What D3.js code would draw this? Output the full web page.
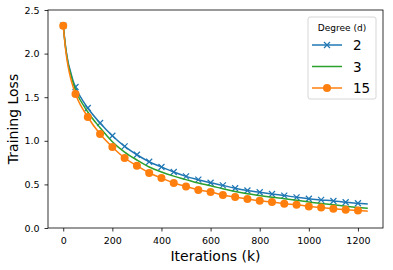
<!doctype html>
<html lang="en">
<head>
<meta charset="utf-8">
<title>Training loss</title>
<style>
  body { margin: 0; background: #fff; }
  text { font-family: "DejaVu Sans", sans-serif; fill: #000; }
</style>
</head>
<body>
<div id="chart"></div>
<script src="https://cdn.jsdelivr.net/npm/d3@7/dist/d3.min.js"></script>
<script>
  // iterations (k) and loss per degree
  const iterations = [0, 10, 20, 30, 40, 50, 100, 150, 200, 250, 300, 350, 400, 450, 500, 550, 600,
    650, 700, 750, 800, 850, 900, 950, 1000, 1050, 1100, 1150, 1200, 1240];
  const lossD2 = [2.32, 2.07, 1.90, 1.79, 1.69, 1.617, 1.376, 1.204, 1.058, 0.936, 0.84, 0.76, 0.70, 0.642,
    0.592, 0.554, 0.519, 0.489, 0.456, 0.43, 0.41, 0.39, 0.372, 0.352, 0.335, 0.322, 0.31, 0.295, 0.284, 0.275];
  const lossD3 = [2.32, 2.06, 1.88, 1.77, 1.67, 1.585, 1.33, 1.15, 0.99, 0.87, 0.78, 0.70, 0.642, 0.595,
    0.555, 0.515, 0.485, 0.45, 0.418, 0.393, 0.372, 0.352, 0.336, 0.318, 0.298, 0.282, 0.266, 0.25, 0.236, 0.227];
  const lossD15 = [2.32, 2.04, 1.85, 1.72, 1.62, 1.537, 1.273, 1.078, 0.929, 0.803, 0.714, 0.631, 0.573, 0.516,
    0.477, 0.436, 0.413, 0.378, 0.355, 0.333, 0.313, 0.298, 0.279, 0.267, 0.247, 0.234, 0.221, 0.21, 0.2, 0.193];
  const degrees = ["2", "3", "15"];
  const xTicks = [0, 200, 400, 600, 800, 1000, 1200];
  const yTicks = [0.0, 0.5, 1.0, 1.5, 2.0, 2.5];

  const width = 393, height = 270;
  const margin = { top: 10, right: 10, bottom: 42, left: 48 };

  const series = [
    { name: degrees[0], values: lossD2, color: "#1f77b4", marker: "x" },
    { name: degrees[1], values: lossD3, color: "#2ca02c", marker: null },
    { name: degrees[2], values: lossD15, color: "#ff7f0e", marker: "o" }
  ];

  const svg = d3.select("#chart").append("svg").attr("width", width).attr("height", height);

  const x = d3.scaleLinear().domain([-62, 1302]).range([margin.left, width - margin.right]);
  const y = d3.scaleLinear().domain([0, 2.5]).range([height - margin.bottom, margin.top]);

  const line = d3.line()
    .x((d, i) => x(iterations[i]))
    .y(d => y(d))
    .curve(d3.curveMonotoneX);

  function drawMarker(g, type, color, cx, cy) {
    if (type === "x") {
      const s = 3;
      g.append("path")
        .attr("d", `M${cx - s},${cy - s}L${cx + s},${cy + s}M${cx - s},${cy + s}L${cx + s},${cy - s}`)
        .attr("stroke", color).attr("stroke-width", 1.2).attr("fill", "none");
    } else if (type === "o") {
      g.append("circle").attr("cx", cx).attr("cy", cy).attr("r", 4).attr("fill", color);
    }
  }

  const plot = svg.append("g");
  series.forEach(s => {
    plot.append("path")
      .datum(s.values)
      .attr("d", line)
      .attr("fill", "none")
      .attr("stroke", s.color)
      .attr("stroke-width", 1.5);
    if (s.marker) {
      s.values.forEach((v, i) => {
        if (iterations[i] % 50 === 0 && iterations[i] <= 1200) {
          drawMarker(plot, s.marker, s.color, x(iterations[i]), y(v));
        }
      });
    }
  });

  // axes
  const xAxis = svg.append("g")
    .attr("transform", `translate(0,${height - margin.bottom})`)
    .call(d3.axisBottom(x).tickValues(xTicks).tickSize(3.5).tickPadding(5.5).tickFormat(d3.format("d")));
  const yAxis = svg.append("g")
    .attr("transform", `translate(${margin.left},0)`)
    .call(d3.axisLeft(y).tickValues(yTicks).tickSize(3.5).tickPadding(5).tickFormat(d3.format(".1f")));
  [xAxis, yAxis].forEach(a => {
    a.select(".domain").remove();
    a.selectAll("text").style("font-family", "DejaVu Sans").style("font-size", "9.5px").attr("fill", "#000");
    a.selectAll("line").attr("stroke", "#000").attr("stroke-width", 0.8);
  });

  // frame
  svg.append("rect")
    .attr("x", margin.left).attr("y", margin.top)
    .attr("width", width - margin.left - margin.right)
    .attr("height", height - margin.top - margin.bottom)
    .attr("fill", "none").attr("stroke", "#000").attr("stroke-width", 0.8);

  svg.append("text")
    .attr("x", (margin.left + width - margin.right) / 2)
    .attr("y", 261)
    .attr("text-anchor", "middle")
    .style("font-size", "14px")
    .text("Iterations (k)");

  svg.append("text")
    .attr("transform", `translate(17.5,${(margin.top + height - margin.bottom) / 2}) rotate(-90)`)
    .attr("text-anchor", "middle")
    .style("font-size", "14px")
    .text("Training Loss");

  // legend
  const lg = svg.append("g");
  lg.append("rect")
    .attr("x", 308).attr("y", 17).attr("width", 68).attr("height", 82).attr("rx", 2)
    .attr("fill", "#fff").attr("fill-opacity", 0.8).attr("stroke", "#ccc").attr("stroke-width", 0.8);
  lg.append("text")
    .attr("x", 342).attr("y", 31).attr("text-anchor", "middle")
    .style("font-size", "9px").text("Degree (d)");
  series.forEach((s, i) => {
    const ly = 45 + i * 21.5;
    lg.append("line").attr("x1", 312).attr("x2", 342).attr("y1", ly).attr("y2", ly)
      .attr("stroke", s.color).attr("stroke-width", 1.5);
    drawMarker(lg, s.marker, s.color, 327, ly);
    lg.append("text").attr("x", 353).attr("y", ly + 5)
      .style("font-size", "13.5px").text(s.name);
  });
</script>
</body>
</html>
